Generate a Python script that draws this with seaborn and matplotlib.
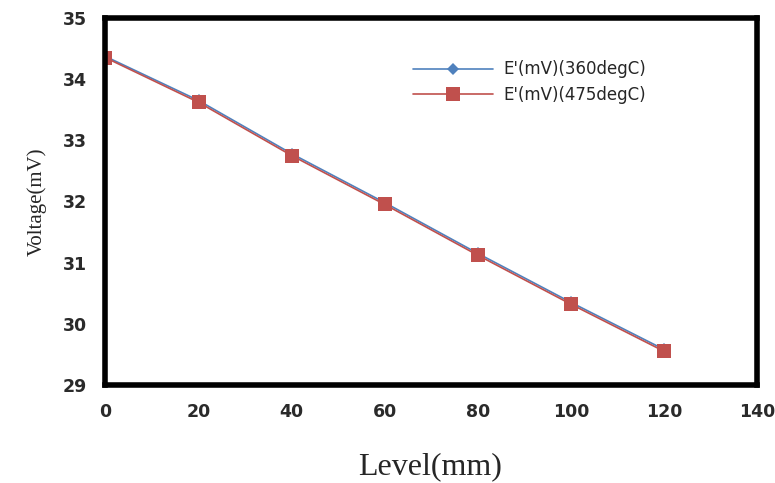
import matplotlib
matplotlib.use("Agg")
import matplotlib.pyplot as plt
import seaborn as sns
import pandas as pd

# Data
level_mm = [0, 20, 40, 60, 80, 100, 120]
volt_360 = [34.37, 33.65, 32.78, 31.98, 31.15, 30.35, 29.58]
volt_475 = [34.35, 33.62, 32.75, 31.95, 31.12, 30.32, 29.55]
series_names = ["E'(mV)(360degC)", "E'(mV)(475degC)"]

df = pd.concat([
    pd.DataFrame({"level": level_mm, "voltage": volt_360, "series": series_names[0]}),
    pd.DataFrame({"level": level_mm, "voltage": volt_475, "series": series_names[1]}),
])

sns.set_style("white")

fig = plt.figure(figsize=(7.75, 4.83), dpi=100)
ax = fig.add_axes([0.136, 0.203, 0.841, 0.76])

sns.lineplot(data=df, x="level", y="voltage", hue="series", style="series",
             palette=["#4F81BD", "#C0504D"], markers=["D", "s"], dashes=False,
             linewidth=1.2, ax=ax, legend=False)
for line, ms, name in zip(ax.lines, [6, 10.5], series_names):
    line.set_markersize(ms)
    line.set_markeredgewidth(0)
    line.set_label(name)

ax.set_xlim(0, 140)
ax.set_ylim(29, 35)
ax.set_xticks(range(0, 141, 20))
ax.set_yticks(range(29, 36))
ax.set_xlabel("")
ax.set_ylabel("")

for side in ["top", "right", "bottom", "left"]:
    ax.spines[side].set_visible(True)
    ax.spines[side].set_color("black")
    ax.spines[side].set_linewidth(4)

ax.tick_params(axis="both", direction="out", length=5, width=1, color="#808080",
               labelsize=12.5, pad=8)
for lab in ax.get_xticklabels() + ax.get_yticklabels():
    lab.set_fontweight("bold")
    lab.set_color("#2a2a2a")

fig.text(0.555, 0.033, "Level(mm)", family="Liberation Serif", fontsize=23,
         ha="center", va="center")
ax.set_ylabel("Voltage(mV)", family="Liberation Serif", fontsize=15, labelpad=12)

ax.legend(handles=ax.lines[:2], loc="upper left", bbox_to_anchor=(0.514, 0.906),
          bbox_transform=fig.transFigure, frameon=False,
          prop={"family": "DejaVu Sans", "size": 12}, handlelength=4.8,
          handletextpad=0.6, labelspacing=0.45)

fig.savefig("out.png", dpi=100)
